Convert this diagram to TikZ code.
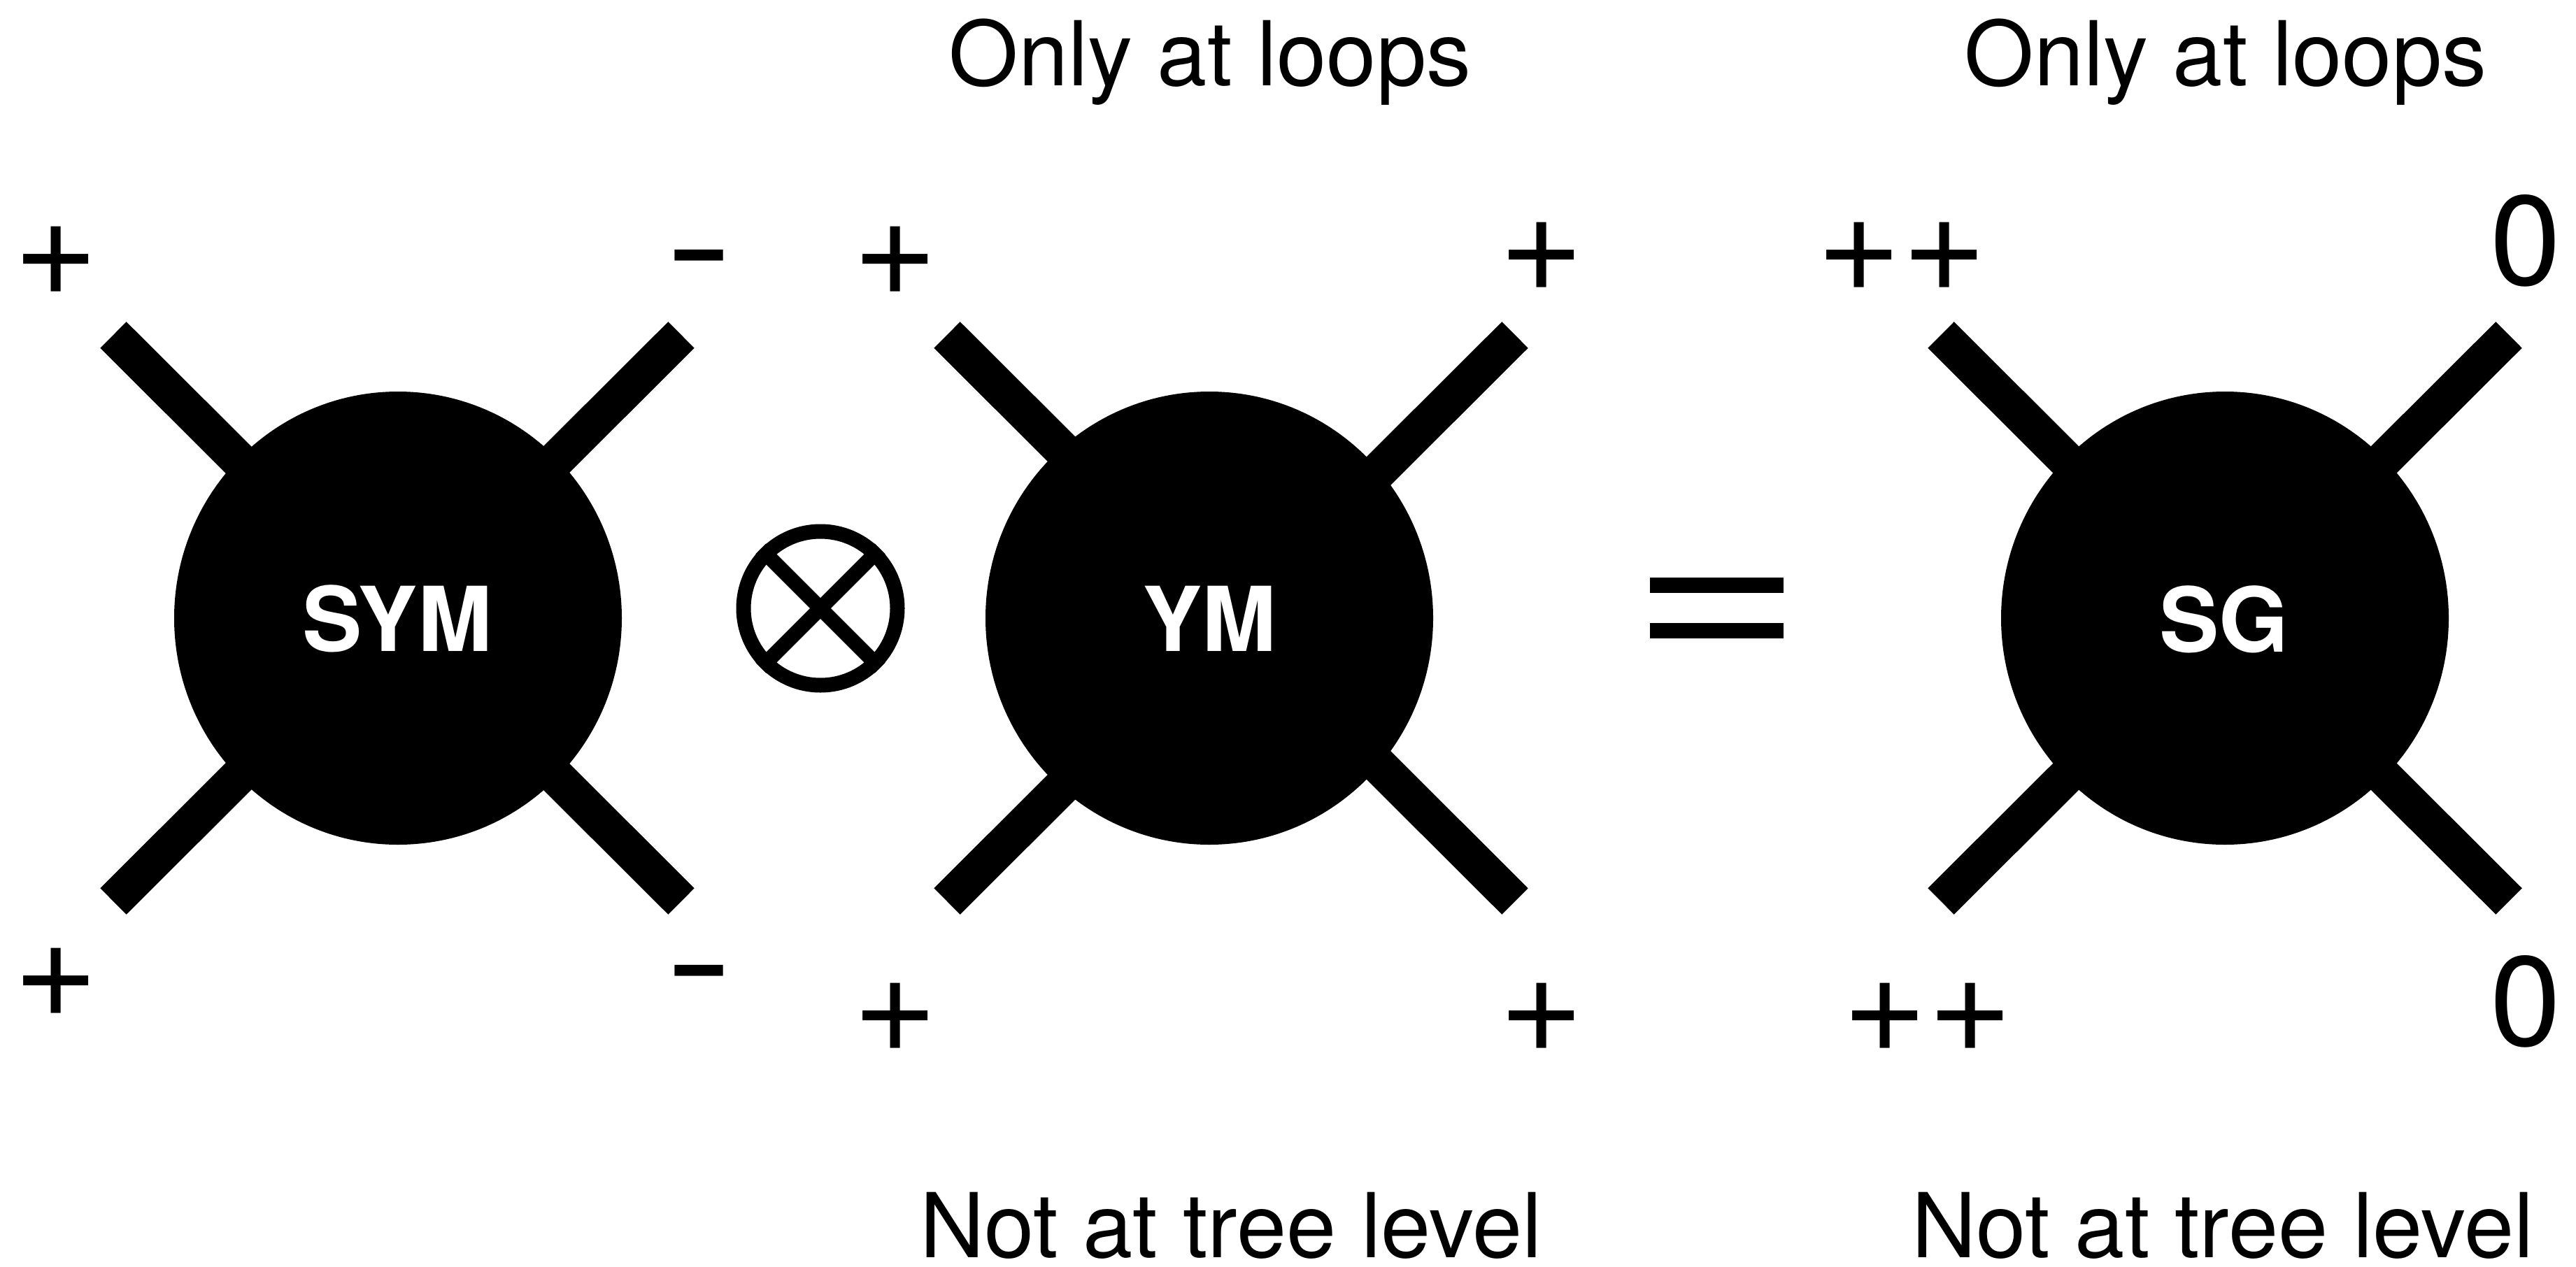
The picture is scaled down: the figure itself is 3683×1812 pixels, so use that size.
\documentclass[tikz,border=0pt]{standalone}
\usepackage{fontspec}
\setmainfont{TeX Gyre Heros}
\usetikzlibrary{shapes.geometric,backgrounds}
\newcommand{\pl}{\scalebox{1.14}{+}}
\newcommand{\mn}{\scalebox{1.6}[1.2]{-}}
\begin{document}
\begin{tikzpicture}[x=1pt,y=-1pt,
  blob/.style={ellipse,fill=black,minimum width=640pt,minimum height=648pt,inner sep=0pt},
  leg/.style={line width=53pt},
  blobtext/.style={text=white,font=\fontsize{128}{128}\selectfont\bfseries,anchor=base,inner sep=0pt},
  lab/.style={font=\fontsize{182}{182}\selectfont,anchor=base,inner sep=0pt},
  note/.style={font=\fontsize{128}{128}\selectfont,anchor=base,inner sep=0pt},
  bar/.style={line width=22pt},
  otimes/.style={circle,draw,line width=21pt,minimum size=220pt,inner sep=0pt}]
\useasboundingbox (0,0) rectangle (3683,1812);

% blobs
\node[blob] (sym) at (569,884) {};
\node[blob] (ym) at (1729,884) {};
\node[blob] (sg) at (3181,884) {};

% leg ends
\coordinate (symc) at (568,884);
\coordinate (sym-ul) at (162,479);
\coordinate (sym-ur) at (974,479);
\coordinate (sym-ll) at (162,1289);
\coordinate (sym-lr) at (974,1289);
\coordinate (ymc) at (1760,884);
\coordinate (ym-ul) at (1354,479);
\coordinate (ym-ur) at (2166,479);
\coordinate (ym-ll) at (1354,1289);
\coordinate (ym-lr) at (2166,1289);
\coordinate (sgc) at (3181,884);
\coordinate (sg-ul) at (2775,479);
\coordinate (sg-ur) at (3587,479);
\coordinate (sg-ll) at (2775,1289);
\coordinate (sg-lr) at (3587,1289);

\begin{pgfonlayer}{background}
  \foreach \b in {sym,ym,sg}{
    \foreach \c in {ul,ur,ll,lr}{
      \draw[leg] (\b c) -- (\b-\c);
    }
  }
\end{pgfonlayer}

% blob labels
\node[blobtext] (symt) at (568,931) {SYM};
\node[blobtext] (ymt) at (1729,931) {YM};
\node[blobtext] (sgt) at (3180,932) {SG};

% tensor product
\node[otimes] (ot) at (1173,870) {};
\draw[line width=21pt] (ot.north west) -- (ot.south east);
\draw[line width=21pt] (ot.north east) -- (ot.south west);

% equals
\coordinate (eq1a) at (2359,837);
\coordinate (eq1b) at (2550,837);
\coordinate (eq2a) at (2359,902);
\coordinate (eq2b) at (2550,902);
\draw[bar] (eq1a) -- (eq1b);
\draw[bar] (eq2a) -- (eq2b);

% helicity labels
\node[lab] (l1) at (80,422) {\pl};
\node[lab] (l2) at (1000,425) {\mn};
\node[lab] (l3) at (80,1454) {\pl};
\node[lab] (l4) at (1000,1448) {\mn};
\node[lab] (l5) at (1280,422) {\pl};
\node[lab] (l6) at (2204,416) {\pl};
\node[lab] (l7) at (1280,1504) {\pl};
\node[lab] (l8) at (2204,1504) {\pl};
\node[lab] (l9) at (2719,416) {\pl\pl};
\node[lab] (l10) at (3611,407) {0};
\node[lab] (l11) at (2756,1504) {\pl\pl};
\node[lab] (l12) at (3611,1495) {0};

% notes
\node[note] (n1) at (1730,122) {Only at loops};
\node[note] (n2) at (3182,122) {Only at loops};
\node[note] (n3) at (1760,1798) {Not at tree level};
\node[note] (n4) at (3178,1798) {Not at tree level};
\end{tikzpicture}
\end{document}
